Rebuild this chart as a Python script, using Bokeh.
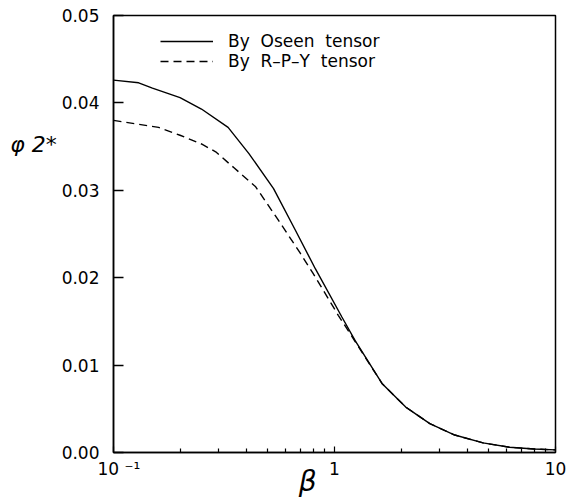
from bokeh.plotting import figure
from bokeh.models import (Legend, LegendItem, FixedTicker, Range1d, CustomJSTickFormatter)
from bokeh.embed import file_html
from bokeh.resources import INLINE

# ---- data ----
beta_oseen = [0.1, 0.13, 0.15, 0.2, 0.25, 0.33, 0.41, 0.53, 0.66, 0.82,
              1.08, 1.24, 1.64, 2.1, 2.7, 3.5, 4.7, 6.2, 8.0, 10]
phi_oseen = [0.0426, 0.0423, 0.0417, 0.0406, 0.0393, 0.0372, 0.0342, 0.0302,
             0.0256, 0.0210, 0.0155, 0.0128, 0.0079, 0.0052, 0.0033, 0.0020,
             0.0011, 0.0006, 0.0004, 0.0003]

beta_rpy = [0.1, 0.16, 0.2, 0.25, 0.29, 0.35, 0.44, 0.56, 0.70, 0.80,
            1.04, 1.24, 1.64, 2.1, 2.7, 3.5, 4.7, 6.2, 8.0, 10]
phi_rpy = [0.0380, 0.0372, 0.0363, 0.0353, 0.0344, 0.0326, 0.0304, 0.0265,
           0.0228, 0.0205, 0.0157, 0.0127, 0.0079, 0.0052, 0.0033, 0.0020,
           0.0011, 0.0006, 0.0004, 0.0003]

series_labels = ["By  Oseen  tensor", "By  R\u2013P\u2013Y  tensor"]

y_ticks = [0.0, 0.01, 0.02, 0.03, 0.04, 0.05]
y_tick_labels = ["0.00", "0.01", "0.02", "0.03", "0.04", "0.05"]
x_ticks = [0.1, 1, 10]
x_tick_labels = ["\u00a0\u00a010 \u207b\u00b9", "1", "10"]
x_minor_ticks = [0.2, 0.3, 0.4, 0.5, 0.6, 0.7, 0.8, 0.9,
                 2, 3, 4, 5, 6, 7, 8, 9]

x_title = "\u03b2"
y_title = "\u03c6 2*"

FONT = "DejaVu Sans"
NB = "\u00a0"

p = figure(width=574, height=504, x_axis_type="log",
           x_range=Range1d(0.1, 10), y_range=Range1d(0, 0.05),
           output_backend="svg", toolbar_location=None,
           min_border_left=113, min_border_right=19,
           min_border_top=15, min_border_bottom=52)

p.xgrid.visible = False
p.ygrid.visible = False
p.background_fill_color = "white"
p.border_fill_color = "white"
p.outline_line_color = "black"
p.outline_line_width = 1.5
p.outline_line_alpha = 1.0

fmt_code = """
for (let i = 0; i < tvals.length; i++) {
    if (Math.abs(tick - tvals[i]) < 1e-6 * Math.max(1e-3, Math.abs(tvals[i]))) return tlabels[i];
}
return "";
"""

# y axis
p.yaxis.ticker = FixedTicker(ticks=y_ticks)
p.yaxis.formatter = CustomJSTickFormatter(args=dict(tvals=y_ticks, tlabels=y_tick_labels), code=fmt_code)
p.yaxis.major_tick_in = 10
p.yaxis.major_tick_out = 0
p.yaxis.minor_tick_in = 0
p.yaxis.minor_tick_out = 0
p.yaxis.major_label_standoff = 14
p.yaxis.major_label_text_font = FONT
p.yaxis.major_label_text_font_size = "17px"
p.yaxis.major_label_text_color = "black"
p.yaxis.axis_line_width = 1.5
p.yaxis.major_tick_line_width = 1.5
p.yaxis.axis_label = y_title + "\n" * 6
p.yaxis.axis_label_text_font = FONT
p.yaxis.axis_label_text_font_style = "italic"
p.yaxis.axis_label_text_font_size = "22px"
p.yaxis.axis_label_text_color = "black"
p.yaxis.axis_label_standoff = 2
try:
    p.yaxis.axis_label_orientation = "horizontal"
except Exception:
    pass

# x axis
p.xaxis.ticker = FixedTicker(ticks=x_ticks, minor_ticks=x_minor_ticks)
p.xaxis.formatter = CustomJSTickFormatter(args=dict(tvals=x_ticks, tlabels=x_tick_labels), code=fmt_code)
p.xaxis.major_tick_in = 6
p.xaxis.major_tick_out = 0
p.xaxis.minor_tick_in = 4
p.xaxis.minor_tick_out = 0
p.xaxis.major_label_standoff = 6
p.xaxis.major_label_text_font = FONT
p.xaxis.major_label_text_font_size = "17px"
p.xaxis.major_label_text_color = "black"
p.xaxis.axis_line_width = 1.5
p.xaxis.major_tick_line_width = 1.2
p.xaxis.minor_tick_line_width = 1.2
p.xaxis.axis_label = x_title + NB * 6
p.xaxis.axis_label_text_font = FONT
p.xaxis.axis_label_text_font_style = "italic"
p.xaxis.axis_label_text_font_size = "28px"
p.xaxis.axis_label_text_color = "black"
p.xaxis.axis_label_standoff = -17

r1 = p.line(beta_oseen, phi_oseen, line_color="black", line_width=1.4)
r2 = p.line(beta_rpy, phi_rpy, line_color="black", line_width=1.4, line_dash="8 5")

legend = Legend(items=[LegendItem(label=series_labels[0], renderers=[r1]),
                       LegendItem(label=series_labels[1], renderers=[r2])],
                location=(47, 381), margin=0, padding=0, spacing=0,
                glyph_width=53, glyph_height=18, label_height=18,
                label_standoff=15, label_text_font=FONT,
                label_text_font_size="17px", label_text_color="black",
                border_line_alpha=0, background_fill_alpha=0)
p.add_layout(legend)

open("out.html", "w").write(file_html(p, INLINE))
